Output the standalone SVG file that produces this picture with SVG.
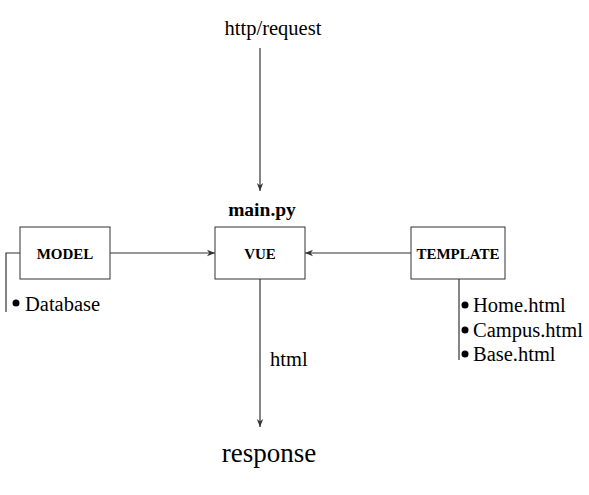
<svg xmlns="http://www.w3.org/2000/svg" width="589" height="495" viewBox="0 0 589 495">
<defs>
<style>
.box{fill:#fff;stroke:#333;stroke-width:1}
.ln{stroke:#333;stroke-width:1.2;fill:none}
text{font-family:'Liberation Serif','Times New Roman',serif}
.lbl{font-weight:bold;font-size:15px;fill:#000;text-anchor:middle}
.t{font-size:20.5px;fill:#000}
</style>
<marker id="ah" viewBox="0 0 10 10" refX="10" refY="5" markerWidth="8" markerHeight="8" markerUnits="userSpaceOnUse" orient="auto">
<path d="M0,1 L10,5 L0,9 L3,5 Z" fill="#333"/>
</marker>
</defs>
<rect width="589" height="495" fill="#fff"/>
<g id="connectors">
<line class="ln" x1="260" y1="48" x2="260" y2="191" marker-end="url(#ah)"/>
<line class="ln" x1="110" y1="253" x2="215" y2="253" marker-end="url(#ah)"/>
<line class="ln" x1="411" y1="253" x2="305" y2="253" marker-end="url(#ah)"/>
<line class="ln" x1="260" y1="279" x2="260" y2="427" marker-end="url(#ah)"/>
<polyline class="ln" points="20,253 6,253 6,312"/>
<line class="ln" x1="459" y1="279" x2="459" y2="360"/>
</g>
<g id="request"><text class="t" x="273" y="35" text-anchor="middle">http/request</text></g>
<g id="model">
<rect class="box" x="20" y="227" width="90" height="52"/>
<text class="lbl" x="65" y="259">MODEL</text>
</g>
<g id="database">
<circle cx="16" cy="303" r="3.5" fill="#000"/>
<text class="t" x="25" y="311">Database</text>
</g>
<g id="vue">
<text class="lbl" x="262" y="216" style="font-size:19.5px">main.py</text>
<rect class="box" x="215" y="227" width="90" height="52"/>
<text class="lbl" x="260" y="259">VUE</text>
</g>
<g id="template">
<rect class="box" x="411" y="227" width="94" height="52"/>
<text class="lbl" x="458" y="259">TEMPLATE</text>
</g>
<g id="files">
<circle cx="465" cy="305" r="3.5" fill="#000"/>
<text class="t" x="473" y="312">Home.html</text>
<circle cx="465" cy="330" r="3.5" fill="#000"/>
<text class="t" x="473" y="337">Campus.html</text>
<circle cx="465" cy="354" r="3.5" fill="#000"/>
<text class="t" x="473" y="361">Base.html</text>
</g>
<g id="html"><text class="t" x="270" y="366">html</text></g>
<g id="response"><text class="t" x="269" y="462" text-anchor="middle" style="font-size:27px">response</text></g>
</svg>
